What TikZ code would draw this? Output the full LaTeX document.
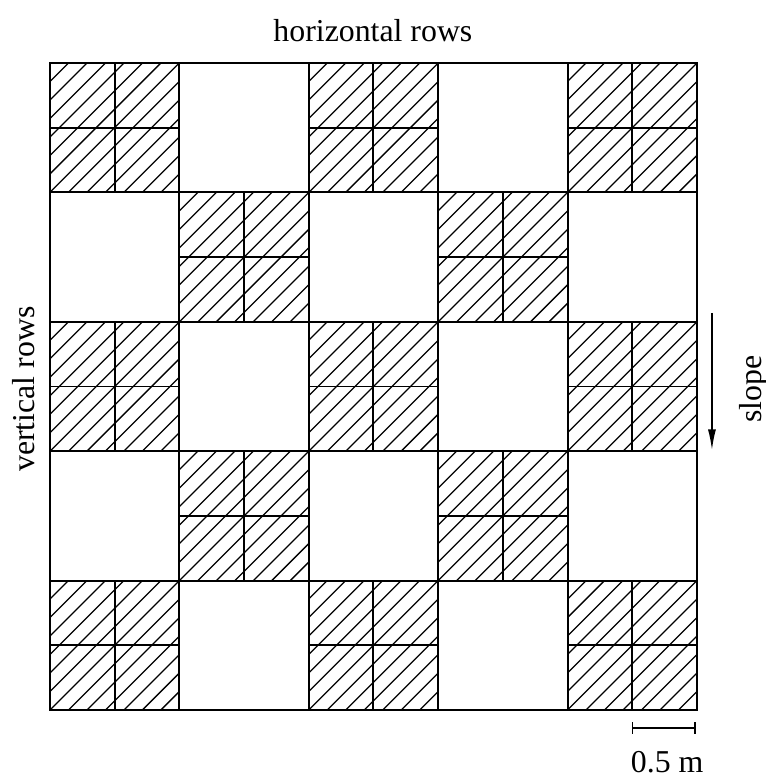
\documentclass[tikz,border=0pt]{standalone}
\usepackage{fontspec}
\setmainfont{Liberation Serif}
\usetikzlibrary{arrows.meta,positioning}

\begin{document}
\begin{tikzpicture}[
  x=2cm, y=2cm,
  frame/.style={draw=black, line width=1.1pt},
  gridline/.style={draw=black, line width=0.85pt},
  hatchline/.style={draw=black, line width=0.55pt},
  lbl/.style={font=\fontsize{14}{17}\selectfont, inner sep=0pt}
]
  \useasboundingbox (-0.386,-0.510) rectangle (5.533,5.487);

  % hatched blocks, split in four
  \foreach \i in {0,...,4}{
    \foreach \j in {0,...,4}{
      \pgfmathtruncatemacro{\odd}{mod(\i+\j,2)}
      \ifnum\odd=0
        \begin{scope}
          \clip (\i,\j) rectangle ++(1,1);
          \foreach \k in {-6,...,6} \draw[hatchline] (\i+\k/7,\j) -- ++(1,1);
        \end{scope}
        \draw[gridline] (\i+0.5,\j) -- ++(0,1) (\i,\j+0.5) -- ++(1,0);
      \fi
    }
  }

  % big squares
  \foreach \n in {1,...,4}{
    \draw[gridline] (\n,0) -- (\n,5);
    \draw[gridline] (0,\n) -- (5,\n);
  }
  \draw[frame] (0,0) rectangle (5,5);

  % labels
  \node[lbl] (hrows) at (2.496,5.25) {horizontal rows};
  \node[lbl, rotate=90] (vrows) at (-0.2,2.48) {vertical rows};
  \node[lbl, rotate=90] (slope) at (5.44,2.48) {slope};

  % slope arrow
  \coordinate (slopetop) at (5.116,3.07);
  \coordinate (slopebot) at (5.116,2.01);
  \draw[-{Latex[length=9pt,width=3.5pt]}, line width=0.6pt] (slopetop) -- (slopebot);

  % scale bar
  \coordinate (barleft) at (4.495,-0.14);
  \coordinate (barright) at (4.99,-0.14);
  \draw[{Bar[width=5pt]}-{Bar[width=5pt]}, line width=0.6pt] (barleft) -- (barright);
  \node[lbl] (barlbl) at (4.77,-0.40) {0.5 m};
\end{tikzpicture}
\end{document}
